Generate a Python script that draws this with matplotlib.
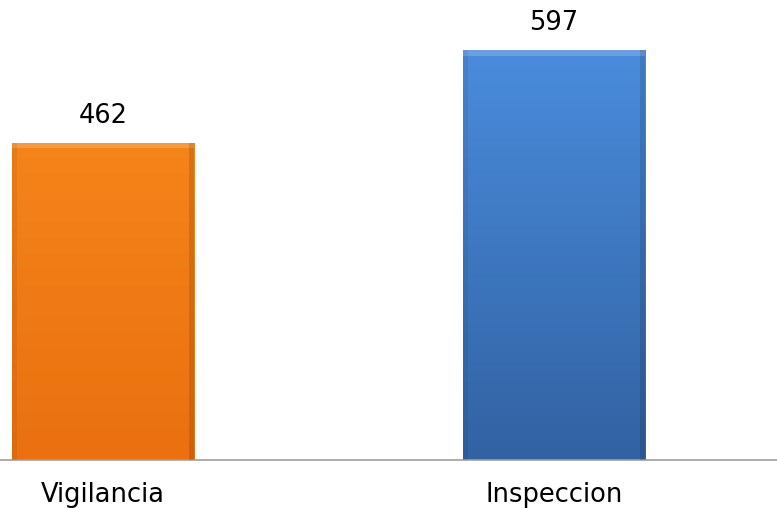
import numpy as np
import matplotlib.pyplot as plt
from matplotlib.colors import LinearSegmentedColormap

# ---------- Data ----------
categories = ["Vigilancia", "Inspeccion"]
values = [462, 597]
top_colors = ["#f5841a", "#4a8cdc"]
bottom_colors = ["#ea7010", "#3262a2"]

# ---------- Figure ----------
fig = plt.figure(figsize=(7.77, 5.08), dpi=100)
ax = fig.add_axes([0, 48 / 508, 1, 460 / 508])

x = np.arange(len(categories))
width = 0.404
bars = ax.bar(x, values, width=width, color="none", edgecolor="none", zorder=2)

# gradient fill clipped to each bar
for bar, c_top, c_bot in zip(bars, top_colors, bottom_colors):
    x0, y0 = bar.get_x(), bar.get_y()
    w, h = bar.get_width(), bar.get_height()
    cmap = LinearSegmentedColormap.from_list("g", [c_bot, c_top])
    grad = np.linspace(0, 1, 256).reshape(-1, 1)
    im = ax.imshow(grad, cmap=cmap, aspect="auto", origin="lower",
                   extent=[x0, x0 + w, y0, y0 + h], zorder=2)
    im.set_clip_path(bar)
    # bevel: light top strip, darker side edges
    ax.fill_between([x0, x0 + w], y0 + h - 8, y0 + h, color="white",
                    alpha=0.18, lw=0, zorder=3)
    ax.fill_between([x0, x0 + w * 0.03], y0, y0 + h, color="black",
                    alpha=0.06, lw=0, zorder=3)
    ax.fill_between([x0 + w * 0.97, x0 + w], y0, y0 + h, color="black",
                    alpha=0.12, lw=0, zorder=3)
    ax.text(bar.get_x() + w / 2, h + 39, f"{h:.0f}", ha="center",
            va="center", fontsize=18.5, color="black")

ax.set_xlim(-0.228, 1.494)
ax.set_ylim(0, 670)

for s in ["top", "left", "right"]:
    ax.spines[s].set_visible(False)
ax.spines["bottom"].set_color("#a0a0a0")
ax.spines["bottom"].set_linewidth(1.2)
ax.set_yticks([])
ax.set_xticks(x)
ax.set_xticklabels(categories, fontsize=18.5)
ax.tick_params(axis="x", length=0, pad=16)

fig.savefig("out.png", dpi=100)
